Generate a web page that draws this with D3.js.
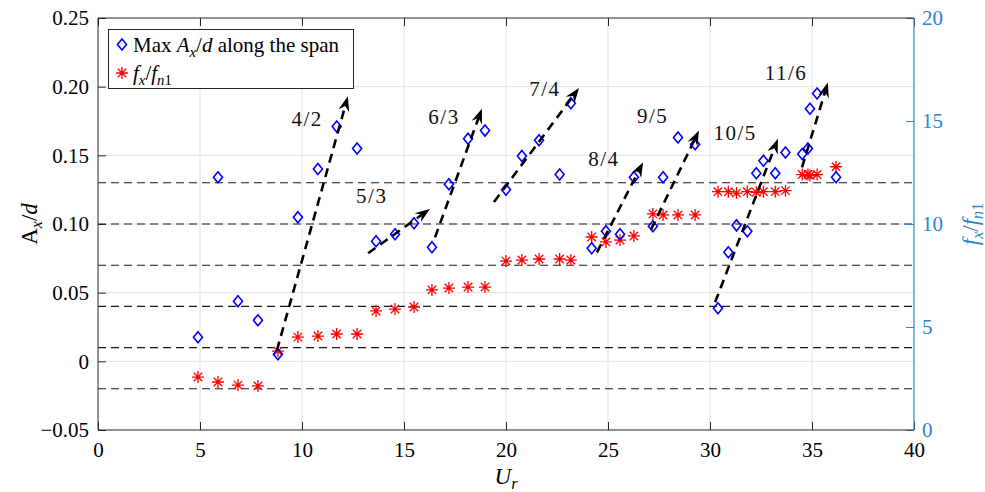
<!DOCTYPE html>
<html>
<head>
<meta charset="utf-8">
<script src="https://cdn.jsdelivr.net/npm/d3@7/dist/d3.min.js"></script>
<style>
body { margin:0; background:#fff; }
</style>
</head>
<body>
<div id="graph"></div>
<script>
!(function(){
"use strict"

// reduced velocity, shared by both series
var ur = [4.9, 5.88, 6.86, 7.84, 8.82,
	9.8, 10.78, 11.7, 12.7,
	13.63, 14.56, 15.49,
	16.37, 17.2, 18.14, 18.97,
	20.0, 20.78, 21.62, 22.63, 23.18,
	24.2, 24.9, 25.59, 26.27,
	27.2, 27.7, 28.43, 29.27,
	30.39, 30.9, 31.3, 31.83, 32.27, 32.62, 33.2, 33.7,
	34.52, 34.8, 34.9, 35.25,
	36.18]
// Max Ax/d along the span (left axis)
var axd = [0.0175, 0.134, 0.0437, 0.0299, 0.0051,
	0.105, 0.140, 0.171, 0.155,
	0.0874, 0.0925, 0.1005,
	0.083, 0.129, 0.162, 0.168,
	0.125, 0.1496, 0.161, 0.136, 0.188,
	0.0823, 0.0947, 0.0925, 0.134,
	0.0983, 0.134, 0.163, 0.158,
	0.0386, 0.0794, 0.099, 0.0947, 0.137, 0.146, 0.137, 0.152,
	0.151, 0.155, 0.184, 0.195,
	0.134]
// fx/fn1 (right axis)
var fRatio = [2.57, 2.33, 2.18, 2.14, 3.83,
	4.51, 4.56, 4.66, 4.66,
	5.78, 5.87, 5.97,
	6.80, 6.89, 6.94, 6.94,
	8.2, 8.25, 8.3, 8.3, 8.25,
	9.37, 9.13, 9.22, 9.42,
	10.49, 10.44, 10.44, 10.44,
	11.57, 11.57, 11.5, 11.57, 11.54, 11.57, 11.57, 11.62,
	12.4, 12.4, 12.35, 12.4,
	12.78]

var fLevels = [2, 4, 6, 8, 10, 12]

var xTicks = [0, 5, 10, 15, 20, 25, 30, 35, 40]
var leftTicks = [-0.05, 0, 0.05, 0.10, 0.15, 0.20, 0.25]
var leftTickLabels = ["\u22120.05", "0", "0.05", "0.10", "0.15", "0.20", "0.25"]
var rightTicks = [0, 5, 10, 15, 20]

// lock-in branches: arrow start / end in (Ur, Ax/d), label position
var branchNames = ["4/2", "5/3", "6/3", "7/4", "8/4", "9/5", "10/5", "11/6"]
var branchFrom = [[8.77, 0.008], [13.24, 0.0787], [16.52, 0.0903], [19.41, 0.116], [24.46, 0.0794], [27.11, 0.096], [30.25, 0.043], [34.51, 0.1412]]
var branchTo = [[12.25, 0.193], [16.27, 0.111], [18.82, 0.184], [23.58, 0.199], [26.72, 0.145], [29.46, 0.168], [33.33, 0.162], [35.78, 0.203]]
var branchLabel = [[10.25, 0.1763], [13.42, 0.1204], [16.96, 0.1779], [21.91, 0.1986], [24.8, 0.147], [27.19, 0.1784], [31.23, 0.1665], [33.73, 0.2102]]

var width = 985, height = 492
var margin = {top:18, left:98, bottom:62, right:71}
var axisColor = "#262626"
var rightColor = "#2b85c8"
var fontSize = 21
var serif = "'Liberation Serif', 'Times New Roman', serif"

var svg = d3.select("#graph").append("svg")
	.attr("width", width).attr("height", height)
	.style("font-family", serif)

var x = d3.scaleLinear().domain([0, 40]).range([margin.left, width - margin.right])
var yL = d3.scaleLinear().domain([-0.05, 0.25]).range([height - margin.bottom, margin.top])
var yR = d3.scaleLinear().domain([0, 20]).range([height - margin.bottom, margin.top])

var x0 = x.range()[0], x1 = x.range()[1]
var yTop = yL.range()[1], yBot = yL.range()[0]

// grid
var grid = svg.append("g").attr("stroke", "#e2e2e2").attr("stroke-width", 1)
grid.selectAll("line.gx").data(xTicks.slice(1, -1)).enter().append("line")
	.attr("x1", function(d){ return x(d) }).attr("x2", function(d){ return x(d) })
	.attr("y1", yTop).attr("y2", yBot)
grid.selectAll("line.gy").data(leftTicks.slice(1, -1)).enter().append("line")
	.attr("x1", x0).attr("x2", x1)
	.attr("y1", function(d){ return yL(d) }).attr("y2", function(d){ return yL(d) })

// frequency reference levels
svg.append("g").selectAll("line").data(fLevels).enter().append("line")
	.attr("x1", x0).attr("x2", x1)
	.attr("y1", function(d){ return yR(d) }).attr("y2", function(d){ return yR(d) })
	.attr("stroke", "#1a1a1a").attr("stroke-width", 1.1)
	.attr("stroke-dasharray", "8,5")

// axes
function styleAxis(g, color) {
	g.attr("font-family", null).attr("font-size", null)
	g.select(".domain").remove()
	g.selectAll(".tick line").attr("stroke", color).attr("stroke-width", 1)
	g.selectAll(".tick text").attr("fill", color)
		.style("font-size", fontSize + "px")
}
var gx = svg.append("g").attr("transform", "translate(0," + yBot + ")")
	.call(d3.axisBottom(x).tickValues(xTicks).tickSize(-8).tickPadding(12).tickFormat(d3.format("d")))
styleAxis(gx, axisColor)
gx.selectAll(".tick text").attr("fill", "#000")
var gxTop = svg.append("g").attr("transform", "translate(0," + yTop + ")")
	.call(d3.axisTop(x).tickValues(xTicks).tickSize(-8).tickFormat(""))
styleAxis(gxTop, axisColor)
var gl = svg.append("g").attr("transform", "translate(" + x0 + ",0)")
	.call(d3.axisLeft(yL).tickValues(leftTicks).tickSize(-8).tickPadding(9)
		.tickFormat(function(d, i){ return leftTickLabels[i] }))
styleAxis(gl, axisColor)
gl.selectAll(".tick text").attr("fill", "#000")
var gr = svg.append("g").attr("transform", "translate(" + x1 + ",0)")
	.call(d3.axisRight(yR).tickValues(rightTicks).tickSize(-8).tickPadding(8).tickFormat(d3.format("d")))
styleAxis(gr, rightColor)

// box
svg.append("path")
	.attr("d", "M" + x1 + "," + yTop + "H" + x0 + "V" + yBot + "H" + x1)
	.attr("fill", "none").attr("stroke", axisColor).attr("stroke-width", 1)
svg.append("line")
	.attr("x1", x1).attr("x2", x1).attr("y1", yTop).attr("y2", yBot)
	.attr("stroke", rightColor).attr("stroke-width", 1.2)

// markers
function diamondPath(cx, cy) {
	return "M" + cx + "," + (cy - 5.5) + "L" + (cx + 4.5) + "," + cy + "L" + cx + "," + (cy + 5.5) + "L" + (cx - 4.5) + "," + cy + "Z"
}
function starPath(cx, cy) {
	var r = 6, s = r * 0.7071
	return "M" + (cx - r) + "," + cy + "H" + (cx + r) +
		"M" + cx + "," + (cy - r) + "V" + (cy + r) +
		"M" + (cx - s) + "," + (cy - s) + "L" + (cx + s) + "," + (cy + s) +
		"M" + (cx - s) + "," + (cy + s) + "L" + (cx + s) + "," + (cy - s)
}

svg.append("g").selectAll("path").data(ur).enter().append("path")
	.attr("d", function(d, i){ return starPath(x(d), yR(fRatio[i])) })
	.attr("stroke", "#ff0000").attr("stroke-width", 1.3).attr("fill", "none")

svg.append("g").selectAll("path").data(ur).enter().append("path")
	.attr("d", function(d, i){ return diamondPath(x(d), yL(axd[i])) })
	.attr("stroke", "#0000ff").attr("stroke-width", 1.6).attr("fill", "none")

// branch arrows
var arrows = svg.append("g")
branchNames.forEach(function(name, i) {
	var ax = x(branchFrom[i][0]), ay = yL(branchFrom[i][1])
	var bx = x(branchTo[i][0]), by = yL(branchTo[i][1])
	var ang = Math.atan2(by - ay, bx - ax)
	var L = 15, W = 5.5, notch = 10
	var c = Math.cos(ang), s = Math.sin(ang)
	function pt(u, v) { return (bx + u * c - v * s) + "," + (by + u * s + v * c) }
	arrows.append("line")
		.attr("x1", ax).attr("y1", ay)
		.attr("x2", bx - notch * c).attr("y2", by - notch * s)
		.attr("stroke", "#000").attr("stroke-width", 2.6)
		.attr("stroke-dasharray", "9,6")
	arrows.append("path")
		.attr("d", "M" + pt(0, 0) + "L" + pt(-L, W) + "L" + pt(-notch, 0) + "L" + pt(-L, -W) + "Z")
		.attr("fill", "#000")
	arrows.append("text")
		.attr("x", x(branchLabel[i][0])).attr("y", yL(branchLabel[i][1]) + 7)
		.attr("text-anchor", "middle")
		.style("font-size", fontSize + "px")
		.style("letter-spacing", "1.5px")
		.attr("fill", "#111")
		.text(name)
})

// rich text helper: parts of {t, i (italic), sub}
function rich(textSel, parts) {
	var inSub = false
	parts.forEach(function(p) {
		var ts = textSel.append("tspan").text(p.t)
		if (p.i) ts.style("font-style", "italic")
		if (p.sub && !inSub) { ts.attr("dy", 5).style("font-size", "0.7em"); inSub = true }
		else if (p.sub) { ts.style("font-size", "0.7em") }
		else if (!p.sub && inSub) { ts.attr("dy", -5); inSub = false }
	})
}

// legend
var lg = svg.append("g")
lg.append("rect").attr("x", 108.5).attr("y", 29.5).attr("width", 245).attr("height", 59)
	.attr("fill", "#fff").attr("stroke", axisColor).attr("stroke-width", 1)
lg.append("path").attr("d", diamondPath(122, 44.5))
	.attr("stroke", "#0000ff").attr("stroke-width", 1.6).attr("fill", "none")
lg.append("path").attr("d", starPath(122, 73))
	.attr("stroke", "#ff0000").attr("stroke-width", 1.3).attr("fill", "none")
rich(lg.append("text").attr("x", 133).attr("y", 51.5).style("font-size", fontSize + "px"),
	[{t:"Max "}, {t:"A", i:1}, {t:"x", i:1, sub:1}, {t:"/"}, {t:"d", i:1}, {t:" along the span"}])
rich(lg.append("text").attr("x", 133).attr("y", 79.5).style("font-size", fontSize + "px"),
	[{t:"f", i:1}, {t:"x", i:1, sub:1}, {t:"/"}, {t:"f", i:1}, {t:"n", i:1, sub:1}, {t:"1", sub:1}])

// axis titles
var midY = (yTop + yBot) / 2
rich(svg.append("text").attr("transform", "translate(37," + midY + ") rotate(-90)")
	.attr("text-anchor", "middle").style("font-size", "23px"),
	[{t:"A"}, {t:"x", i:1, sub:1}, {t:"/"}, {t:"d", i:1}])
rich(svg.append("text").attr("x", (x0 + x1) / 2).attr("y", 484)
	.attr("text-anchor", "middle").style("font-size", "23px"),
	[{t:"U", i:1}, {t:"r", i:1, sub:1}])
rich(svg.append("text").attr("transform", "translate(978," + midY + ") rotate(-90)")
	.attr("text-anchor", "middle").attr("fill", rightColor).style("font-size", "23px"),
	[{t:"f", i:1}, {t:"x", i:1, sub:1}, {t:"/"}, {t:"f", i:1}, {t:"n", i:1, sub:1}, {t:"1", sub:1}])

svg.selectAll("text").style("font-family", serif)
}());
</script>
</body>
</html>
